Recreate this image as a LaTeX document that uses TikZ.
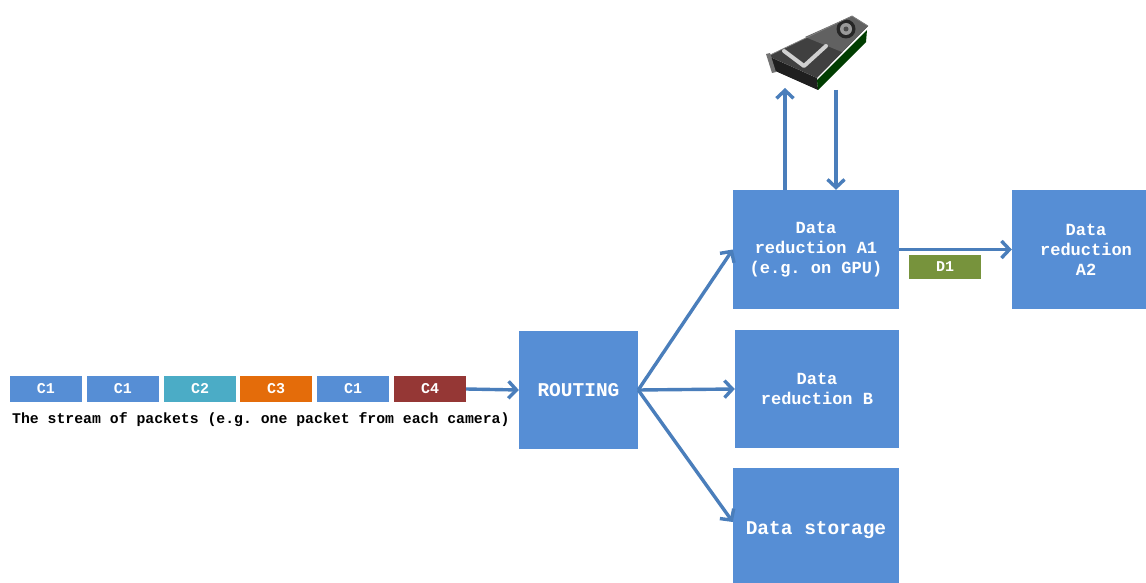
\documentclass[tikz,border=0pt]{standalone}
\usepackage{fontspec}
\setmonofont{Liberation Mono}
\usetikzlibrary{arrows.meta}
\definecolor{boxblue}{RGB}{86,142,213}
\definecolor{arrblue}{RGB}{74,126,187}
\definecolor{cteal}{RGB}{75,172,198}
\definecolor{corange}{RGB}{228,108,10}
\definecolor{cred}{RGB}{149,55,53}
\definecolor{cgreen}{RGB}{119,147,60}
\tikzset{
  blk/.style={fill=boxblue, draw=none, text=white, align=center,
    font=\ttfamily\bfseries\fontsize{17}{20}\selectfont, inner sep=0pt},
  pkt/.style={draw=none, text=white, minimum width=72pt, minimum height=26pt,
    inner sep=0pt, font=\ttfamily\bfseries\fontsize{15}{17}\selectfont},
  conn/.style={draw=arrblue, line width=3.4pt, -{Straight Barb[length=8pt,width=17pt]}},
}
\begin{document}
\begin{tikzpicture}[x=1pt,y=-1pt]
\useasboundingbox (0,0) rectangle (1146,583);
\clip (0,0) rectangle (1146,583);
\fill[white] (0,0) rectangle (1146,583);

% packets
\node[pkt, fill=boxblue] (p1) at (46,389) {C1};
\node[pkt, fill=boxblue] (p2) at (123,389) {C1};
\node[pkt, fill=cteal]   (p3) at (200,389) {C2};
\node[pkt, fill=corange] (p4) at (276,389) {C3};
\node[pkt, fill=boxblue] (p5) at (353,389) {C1};
\node[pkt, fill=cred]    (p6) at (430,389) {C4};
\node[anchor=west, inner sep=0pt, font=\ttfamily\bfseries\fontsize{14.8}{17}\selectfont] (cap) at (12,419.5)
  {The stream of packets (e.g. one packet from each camera)};

% blocks
\node[blk, minimum width=119pt, minimum height=118pt, font=\ttfamily\bfseries\fontsize{19.5}{22}\selectfont] (rt) at (578.5,390) {ROUTING};
\node[blk, minimum width=166pt, minimum height=119pt] (a1) at (816,249.5) {Data\\reduction A1\\(e.g. on GPU)};
\node[blk, minimum width=148pt, minimum height=119pt] (a2) at (1086,249.5) {Data\\reduction\\A2};
\node[blk, minimum width=164pt, minimum height=118pt] (b) at (817,389) {Data\\reduction B};
\node[blk, minimum width=166pt, minimum height=124pt, font=\ttfamily\bfseries\fontsize{19.5}{22}\selectfont] (st) at (816,530) {Data storage};
\node[pkt, fill=cgreen, minimum width=72pt, minimum height=24pt] (d1) at (945,267) {D1};

% GPU card (drawn)
\node[minimum width=104pt, minimum height=80pt, inner sep=0pt] (gpu) at (818,50) {};
\fill[black!88] (768,56) -- (773,70) -- (818,90) -- (817,78) -- cycle;
\fill[black!60!green!60!black] (817,80) -- (867,30) -- (866,42) -- (818,90) -- cycle;
\fill[black!75] (768,56) -- (852,16) -- (868,26) -- (817,78) -- cycle;
\fill[black!62] (805,37) -- (852,16) -- (868,26) -- (842,52) -- cycle;
\fill[black!85] (846,29) circle (9.5);
\fill[black!40] (846,29) circle (6);
\fill[black!70] (846,29) circle (2.5);
\draw[white!82!black, line width=4pt, line cap=round, line join=round] (784,51) -- (804,66) -- (826,46);
\draw[black!50, line width=0.8pt] (768,56) -- (852,16) -- (868,26);
\fill[black!55] (766,54) -- (770,53) -- (776,72) -- (772,73) -- cycle;
\coordinate (gu) at (785,88);
\coordinate (gd) at (836,90);

% connectors
\draw[conn] (p6.east) -- (rt.west);
\draw[conn] (rt.east) -- (a1.west);
\draw[conn] (rt.east) -- (b.west);
\draw[conn] (rt.east) -- ([yshift=8pt]st.west);
\draw[conn] (a1.east) -- (a2.west);
\draw[conn] (a1.north -| gu) -- (gu);
\draw[conn] (gd) -- (a1.north -| gd);
\end{tikzpicture}
\end{document}
